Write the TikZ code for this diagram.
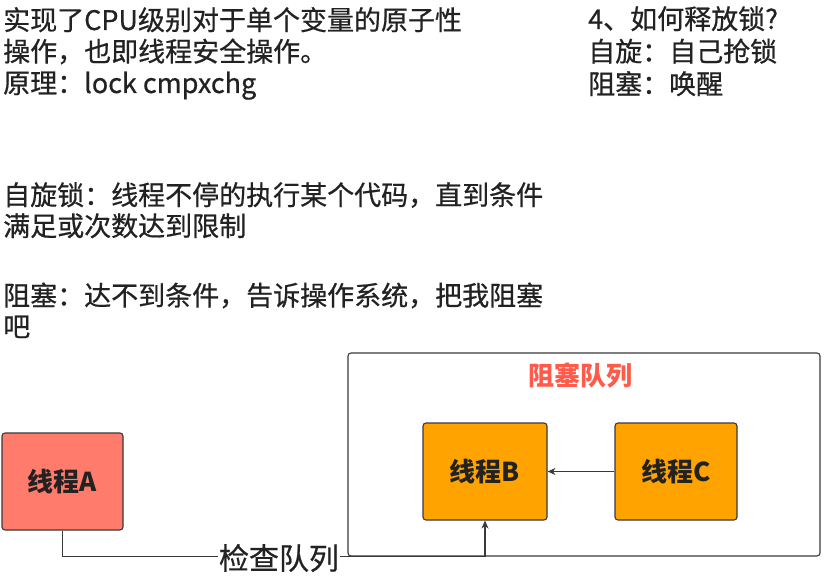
\documentclass[tikz,border=0pt]{standalone}
\usepackage{fontspec}
\setmainfont{Noto Sans CJK SC}
\newfontfamily\medcjk{Noto Sans CJK SC}[FakeBold=0.6]
\usetikzlibrary{arrows.meta}
\definecolor{txt}{HTML}{222222}
\definecolor{edge}{HTML}{3A3A3A}
\definecolor{afill}{HTML}{FF7B6B}
\definecolor{ofill}{HTML}{FFA300}
\definecolor{ttl}{HTML}{FF5A4A}
\tikzset{
  para/.style={anchor=base west, inner sep=0pt, text=txt, font=\medcjk\fontsize{27}{31}\selectfont},
  thread/.style={draw=edge, line width=1.1pt, rounded corners=3pt, minimum width=121pt, minimum height=97pt, text=txt, font=\fontsize{26}{31}\selectfont\bfseries},
  conn/.style={draw=edge, line width=1.1pt},
  arr/.style={conn, -{Stealth[length=8pt,width=7pt]}}
}
\begin{document}
\begin{tikzpicture}[x=1pt,y=-1pt]
\useasboundingbox[fill=white] (0,0) rectangle (827,577);
% text blocks
\node[para] (t1) at (3,30) {实现了CPU级别对于单个变量的原子性};
\node[para] (t2) at (3,61.5) {操作，也即线程安全操作。};
\node[para] (t3) at (3,93) {原理：lock cmpxchg};
\node[para] (r1) at (588,29) {4、如何释放锁?};
\node[para] (r2) at (588,61.5) {自旋：自己抢锁};
\node[para] (r3) at (588,94) {阻塞：唤醒};
\node[para] (m1) at (3,205) {自旋锁：线程不停的执行某个代码，直到条件};
\node[para] (m2) at (3,236) {满足或次数达到限制};
\node[para] (m3) at (3,305.5) {阻塞：达不到条件，告诉操作系统，把我阻塞};
\node[para] (m4) at (3,336.5) {吧};
% container
\node[draw=edge, line width=1.1pt, rounded corners=3pt, minimum width=472pt, minimum height=203pt, inner sep=0pt] (Q) at (584,454.5) {};
\node[text=ttl, font=\fontsize{26}{31}\selectfont\bfseries, inner sep=0pt] (qt) at (580,376) {阻塞队列};
% threads
\node[thread, fill=afill] (A) at (62.5,481.5) {线程A};
\node[thread, fill=ofill, minimum width=124pt] (B) at (485,471.5) {线程B};
\node[thread, fill=ofill, minimum width=122pt] (C) at (676,471.5) {线程C};
% connectors
\draw[arr] (C.west) -- (B.east);
\coordinate (k) at (B.south |- Q.south);
\draw[arr] (A.south) |- (k) -- (B.south);
\node[fill=white, inner sep=1pt, text=txt, font=\medcjk\fontsize{30}{34}\selectfont] (lbl) at (279,558) {检查队列};
\end{tikzpicture}
\end{document}
